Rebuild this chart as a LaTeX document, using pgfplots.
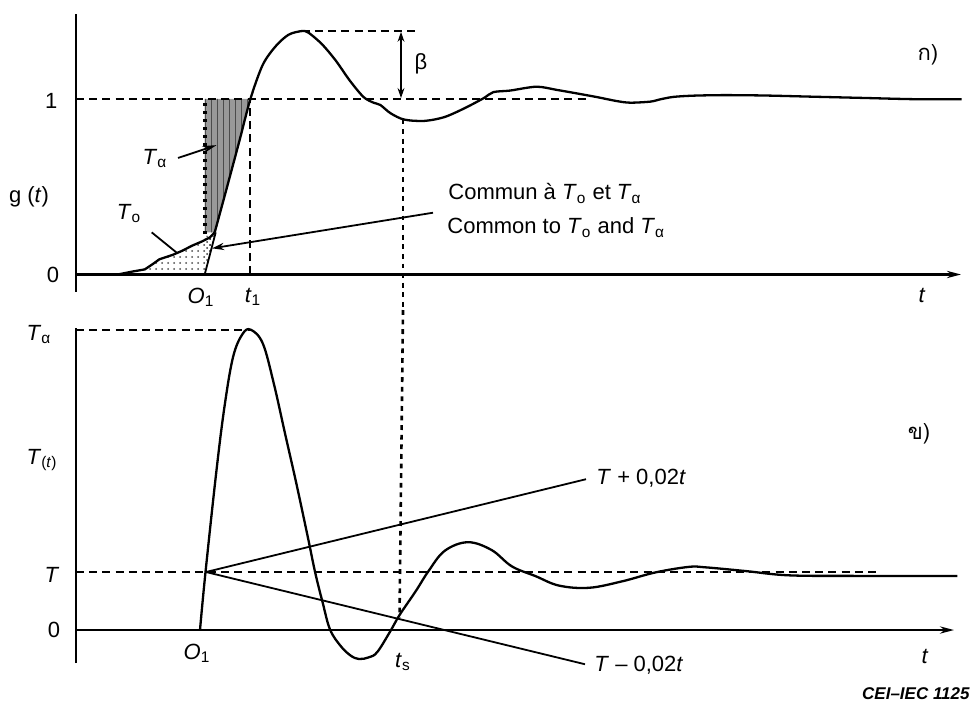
\documentclass[border=0pt]{standalone}
\usepackage{fontspec}
\setmainfont{Liberation Sans}
\newfontfamily\thaifont[Script=Thai]{Loma}
\usepackage{pgfplots}
\pgfplotsset{compat=1.18}
\usetikzlibrary{arrows.meta,patterns}

\newcommand\va[1]{\textit{#1}}
\newcommand\sub[1]{\textsubscript{#1}}

% step response g(t) and its derivative-like response T(t)
\pgfplotsset{
  panel/.style={hide axis, scale only axis, clip=false, width=487.5pt,
    xmin=-0.76, xmax=8.99, anchor=south west, no markers},
}
\tikzset{
  curve/.style={black, line width=1.15pt},
  thinln/.style={black, line width=0.9pt},
  dashln/.style={black, line width=0.95pt, dash pattern=on 4pt off 2.6pt},
  vdash/.style={black, line width=1.3pt, dash pattern=on 2.4pt off 2.4pt},
  axln/.style={black, line width=1.1pt},
  tip/.style={-{Stealth[length=7pt,width=3.6pt]}},
}

\begin{document}
\begin{tikzpicture}[every node/.append style={font=\fontsize{11}{13}\selectfont, inner sep=1pt}]
\useasboundingbox (0pt,0pt) rectangle (487.5pt,359.5pt);

% ---------------- upper panel: g(t) ----------------
\begin{axis}[panel, at={(0pt,204.5pt)}, height=155pt, ymin=-0.2023, ymax=1.5641]
  % area T_alpha
  \addplot[draw=none, fill=black!40] coordinates {
    (1.287,0.24) (1.287,1) (1.744,1) (1.634,0.761) (1.497,0.470) (1.397,0.24)} -- cycle;
  \addplot[draw=none, pattern=vertical lines, pattern color=black!70] coordinates {
    (1.287,0.24) (1.287,1) (1.744,1) (1.634,0.761) (1.497,0.470) (1.397,0.24)} -- cycle;
  % area T_o
  \addplot[draw=none, pattern=dots, pattern color=black!70] coordinates {
    (0.62,0) (0.687,0.029) (0.764,0.058) (0.835,0.087) (0.963,0.111) (1.062,0.135)
    (1.160,0.164) (1.259,0.188) (1.338,0.211) (1.387,0.24) (1.287,0)} -- cycle;
  % part common to both areas
  \addplot[draw=none, pattern=crosshatch dots, pattern color=black!80] coordinates {
    (1.287,0) (1.287,0.22) (1.387,0.22)} -- cycle;

  % axes
  \draw[axln] (axis cs:0,-0.097) -- (axis cs:0,1.482);
  \draw[axln, tip] (axis cs:0,0) -- (axis cs:8.85,0);

  % reference lines
  \addplot[dashln] coordinates {(0,1) (5.1,1)};
  \addplot[dashln] coordinates {(2.257,1.387) (3.44,1.387)};
  \addplot[dashln] coordinates {(1.744,0) (1.744,1)};
  \addplot[black, line width=1.9pt, dash pattern=on 1.6pt off 2.4pt]
    coordinates {(1.287,0.23) (1.287,1)};
  \addplot[vdash] coordinates {(3.27,0.883) (3.27,-0.2023)};

  % overshoot beta
  \addplot[black, line width=0.9pt, {Stealth[length=5pt,width=3.4pt]}-{Stealth[length=5pt,width=3.4pt]}]
    coordinates {(3.25,1.383) (3.25,1.005)};
  \node at (axis cs:3.45,1.2) {β};

  % step response: slow start, then along the inflection tangent
  \addplot[curve] coordinates {
    (0,0) (0.417,0) (0.567,0.017) (0.687,0.029) (0.764,0.058) (0.835,0.087)
    (0.963,0.111) (1.062,0.135) (1.160,0.164) (1.259,0.188) (1.338,0.211) (1.387,0.240)};
  \addplot[curve, smooth, tension=0.5] coordinates {
    (1.387,0.240) (1.497,0.470) (1.634,0.761) (1.744,1.0) (1.866,1.193) (1.994,1.299)
    (2.125,1.366) (2.257,1.387) (2.3245,1.378) (2.46,1.312) (2.5975,1.219) (2.7365,1.106)
    (2.874,1.012) (2.975,0.979) (3.043,0.966) (3.145,0.919) (3.28,0.883) (3.48,0.875)
    (3.679,0.896) (3.877,0.945) (4.0745,1.004) (4.173,1.039) (4.34,1.048) (4.605,1.07)
    (4.806,1.052) (5.007,1.032) (5.208,1.011) (5.409,0.988) (5.543,0.979) (5.743,0.985)
    (5.842,0.998) (5.975,1.012) (6.175,1.019) (6.475,1.022) (6.875,1.020) (7.375,1.013)
    (7.876,1.006) (8.376,0.999) (8.856,0.998)};
  % inflection tangent through O1
  \addplot[thinln] coordinates {(1.287,0) (1.397,0.24)};

  % annotations
  \node at (axis cs:0.79,0.66) {\va{T}\sub{α}};
  \draw[thinln, tip] (axis cs:1.02,0.664) -- (axis cs:1.405,0.737);
  \node at (axis cs:0.53,0.346) {\va{T}\sub{o}};
  \draw[thinln] (axis cs:0.757,0.24) -- (axis cs:1.01,0.123);
  \draw[thinln, {Stealth[length=6pt,width=3.6pt]}-] (axis cs:1.36,0.149) -- (axis cs:3.57,0.352);
  \node[anchor=west] at (axis cs:3.70,0.461) {Commun à \va{T}\sub{o} et \va{T}\sub{α}};
  \node[anchor=west] at (axis cs:3.69,0.267) {Common to \va{T}\sub{o} and \va{T}\sub{α}};

  % labels
  \node at (axis cs:-0.247,0.99) {1};
  \node at (axis cs:-0.47,0.44) {g (\va{t})};
  \node at (axis cs:-0.23,0) {0};
  \node at (axis cs:1.25,-0.13) {\va{O}\sub{1}};
  \node at (axis cs:1.77,-0.126) {\va{t}\sub{1}};
  \node at (axis cs:8.46,-0.117) {\va{t}};
  \node at (axis cs:8.52,1.25) {\thaifont ก)};
\end{axis}

% ---------------- lower panel: T(t) ----------------
\begin{axis}[panel, at={(0pt,0pt)}, height=204.5pt, ymin=-1.534, ymax=5.517]
  % axes
  \draw[axln] (axis cs:0,-0.57) -- (axis cs:0,5.2);
  \draw[axln, tip] (axis cs:0,0) -- (axis cs:8.78,0);

  % reference lines
  \addplot[dashln] coordinates {(0,5.176) (1.749,5.176)};
  \addplot[dashln] coordinates {(0,1) (8.0,1)};
  \addplot[vdash] coordinates {(3.27,5.517) (3.235,0.22)};

  % tolerance band T +/- 0,02 t
  \addplot[thinln] coordinates {(1.30,1) (5.1,2.6)};
  \addplot[thinln] coordinates {(1.30,1) (5.09,-0.59)};

  % response T(t)
  \addplot[curve, smooth, tension=0.6] coordinates {
    (1.24,0) (1.2925,0.955) (1.40,2.68) (1.484,3.84) (1.571,4.71) (1.666,5.105)
    (1.749,5.176) (1.868,4.94) (1.978,4.25) (2.09,3.39) (2.203,2.53) (2.316,1.62)
    (2.3925,0.986) (2.467,0.47) (2.54,0.01) (2.644,-0.27) (2.746,-0.44) (2.831,-0.50)
    (2.93,-0.47) (3.0125,-0.38) (3.14,-0.03) (3.236,0.26) (3.3975,0.67) (3.5255,1.017)
    (3.6875,1.366) (3.918,1.514) (4.155,1.38) (4.359,1.097) (4.594,0.93) (4.83,0.766)
    (5.13,0.728) (5.463,0.84) (5.794,0.993) (6.126,1.088) (6.293,1.081) (6.694,1.017)
    (7.128,0.943) (7.795,0.933) (8.813,0.933)};

  % labels
  \node at (axis cs:-0.37,5.1) {\va{T}\sub{α}};
  \node at (axis cs:-0.34,2.93) {\va{T}\sub{(\va{t})}};
  \node at (axis cs:-0.24,0.95) {\va{T}};
  \node at (axis cs:-0.22,0) {0};
  \node at (axis cs:1.21,-0.4) {\va{O}\sub{1}};
  \node at (axis cs:3.27,-0.55) {\va{t}\sub{s}};
  \node at (axis cs:8.49,-0.45) {\va{t}};
  \node at (axis cs:8.43,3.39) {\thaifont ข)};
  \node[anchor=west] at (axis cs:5.18,2.62) {\va{T} + 0,02\va{t}};
  \node[anchor=west] at (axis cs:5.16,-0.6) {\va{T} \textendash\ 0,02\va{t}};
  \node[anchor=east, font=\fontsize{8.5}{10}\selectfont\bfseries\itshape] at (axis cs:8.96,-1.09) {CEI\textendash IEC 1125};
\end{axis}
\end{tikzpicture}
\end{document}
